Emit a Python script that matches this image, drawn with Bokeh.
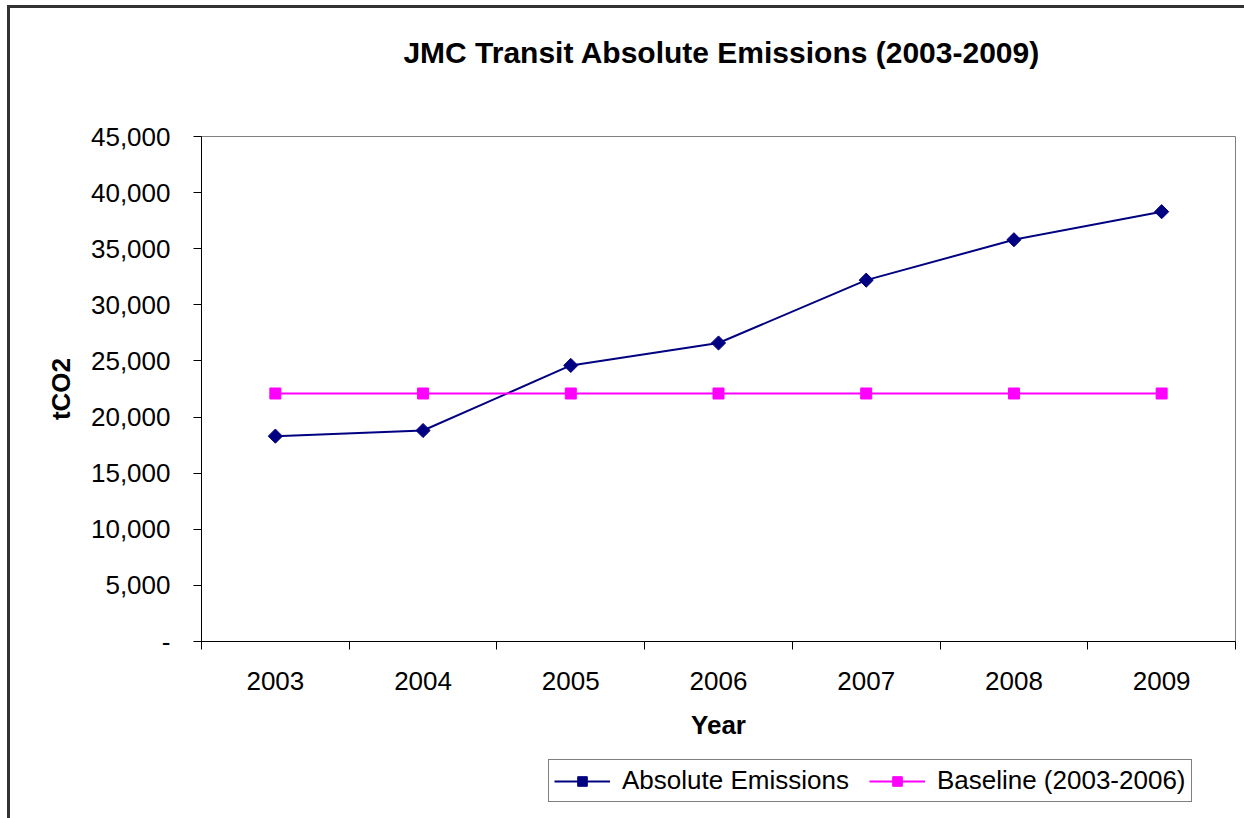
import numpy as np
from bokeh.plotting import figure
from bokeh.layouts import column
from bokeh.models import (Range1d, LinearAxis, FixedTicker, CustomJSTickFormatter,
                          NumeralTickFormatter, Legend, LegendItem, Label, ColumnDataSource)
from bokeh.embed import file_html
from bokeh.resources import INLINE

# ---- data ----
years = ["2003", "2004", "2005", "2006", "2007", "2008", "2009"]
absolute_emissions = [18300, 18800, 24600, 26600, 32200, 35800, 38300]
baseline = [22100, 22100, 22100, 22100, 22100, 22100, 22100]
y_ticks = [0, 5000, 10000, 15000, 20000, 25000, 30000, 35000, 40000, 45000]
title_text = "JMC Transit Absolute Emissions (2003-2009)"

FONT = "Liberation Sans"
W = 1234

# category slot positions on a numeric band axis (each year occupies one band)
slot = [i + 0.5 for i in range(len(years))]
src = ColumnDataSource(dict(x=slot, year=years, emis=absolute_emissions, base=baseline))


def bare(fig):
    fig.xgrid.visible = False
    fig.ygrid.visible = False
    fig.outline_line_color = None
    fig.background_fill_color = "white"
    fig.border_fill_color = "white"
    fig.min_border_left = 0
    fig.min_border_right = 0
    fig.min_border_top = 0
    fig.min_border_bottom = 0


# ---- header (title) ----
HH = 110
p0 = figure(width=W, height=HH, x_range=Range1d(0, W), y_range=Range1d(0, HH),
            output_backend="svg", toolbar_location=None, x_axis_location=None,
            y_axis_location=None)
bare(p0)
p0.add_layout(Label(x=621, y=HH - 44, text=title_text, text_align="center",
                    text_baseline="middle", text_font=FONT, text_font_style="bold",
                    text_font_size="30px", text_color="black"))

# ---- main chart ----
p = figure(width=W, height=630, x_range=Range1d(0, len(years)), y_range=Range1d(0, 45000),
           output_backend="svg", toolbar_location=None, x_axis_location=None,
           y_axis_location=None)
p.min_border_left = 191
p.min_border_top = 18
p.min_border_right = 9
p.min_border_bottom = 107
p.xgrid.visible = False
p.ygrid.visible = False
p.outline_line_color = "#808080"
p.outline_line_width = 1
p.background_fill_color = "white"
p.border_fill_color = "white"

# y axis
yax = LinearAxis(ticker=FixedTicker(ticks=y_ticks), formatter=NumeralTickFormatter(format="0,0"))
yax.major_label_overrides = {0: "-"}
yax.axis_label = "tCO2"
yax.axis_label_text_font = FONT
yax.axis_label_text_font_style = "bold"
yax.axis_label_text_font_size = "26px"
yax.axis_label_text_color = "black"
yax.axis_label_standoff = 12
yax.major_label_text_font = FONT
yax.major_label_text_font_size = "26px"
yax.major_label_text_color = "black"
yax.major_label_standoff = 23
yax.major_tick_in = 0
yax.major_tick_out = 8
yax.minor_tick_line_color = None
yax.axis_line_color = "black"
yax.major_tick_line_color = "black"
p.add_layout(yax, "left")

# x boundary ticks axis (ticks between categories)
tax = LinearAxis(ticker=FixedTicker(ticks=list(range(len(years) + 1))),
                 formatter=CustomJSTickFormatter(code="return ''"))
tax.major_label_text_font_size = "1px"
tax.major_label_standoff = 0
tax.major_tick_in = 0
tax.major_tick_out = 8
tax.minor_tick_line_color = None
tax.axis_line_color = "black"
tax.major_tick_line_color = "black"
p.add_layout(tax, "below")

# x category labels axis
cax = LinearAxis(ticker=FixedTicker(ticks=slot),
                 formatter=CustomJSTickFormatter(args=dict(years=years),
                                                 code="return years[Math.floor(tick)]"))
cax.axis_label = "Year"
cax.axis_label_text_font = FONT
cax.axis_label_text_font_style = "bold"
cax.axis_label_text_font_size = "26px"
cax.axis_label_text_color = "black"
cax.axis_label_standoff = 17
cax.major_label_text_font = FONT
cax.major_label_text_font_size = "26px"
cax.major_label_text_color = "black"
cax.major_label_standoff = 22
cax.major_tick_in = 0
cax.major_tick_out = 0
cax.major_tick_line_color = None
cax.minor_tick_line_color = None
cax.axis_line_color = None
p.add_layout(cax, "below")

# series
p.line("x", "emis", source=src, line_color="#000080", line_width=2)
p.scatter("x", "emis", source=src, marker="square", angle=np.pi / 4, size=10,
          fill_color="#000080", line_color="#000080")
p.line("x", "base", source=src, line_color="#FF00FF", line_width=2)
p.scatter("x", "base", source=src, marker="square", size=11,
          fill_color="#FF00FF", line_color="#FF00FF")

# ---- legend strip (same series; data lie outside this strip's range, only the key shows) ----
p2 = figure(width=W, height=70, x_range=Range1d(0, len(years)), y_range=Range1d(0, 1),
            output_backend="svg", toolbar_location=None, x_axis_location=None,
            y_axis_location=None)
bare(p2)
k1 = p2.line("x", "emis", source=src, line_color="#000080", line_width=2)
k1m = p2.scatter("x", "emis", source=src, marker="square", angle=np.pi / 4, size=10,
                 fill_color="#000080", line_color="#000080")
k2 = p2.line("x", "base", source=src, line_color="#FF00FF", line_width=2)
k2m = p2.scatter("x", "base", source=src, marker="square", size=11,
                 fill_color="#FF00FF", line_color="#FF00FF")

legend = Legend(items=[LegendItem(label="Absolute Emissions", renderers=[k1, k1m]),
                       LegendItem(label="Baseline (2003-2006)", renderers=[k2, k2m])],
                location=(347, 16), orientation="horizontal")
legend.label_text_font = FONT
legend.label_text_font_size = "26px"
legend.label_text_color = "black"
legend.border_line_color = "black"
legend.border_line_width = 1
legend.background_fill_alpha = 1
legend.padding = 5
legend.margin = 0
legend.spacing = 20
legend.glyph_width = 56
legend.glyph_height = 24
legend.label_standoff = 12
p2.add_layout(legend, "center")

layout = column(p0, p, p2, spacing=0)
layout.margin = (5, 0, 0, 7)
layout.styles = {"border-left": "3px solid #333333", "border-top": "3px solid #333333"}

open("out.html", "w").write(file_html(layout, INLINE))
